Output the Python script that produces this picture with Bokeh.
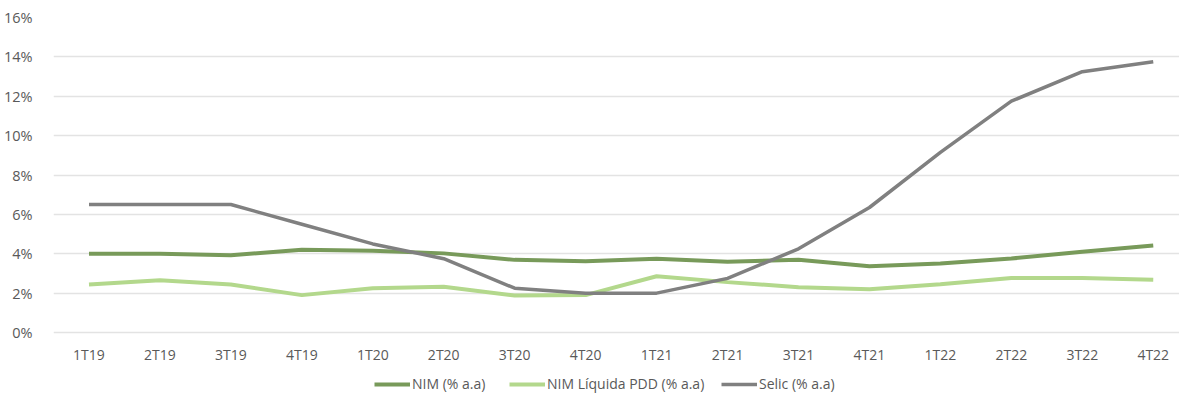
from bokeh.plotting import figure
from bokeh.models import Range1d, FixedTicker, Legend, LegendItem, ColumnDataSource
from bokeh.core.properties import value
from bokeh.embed import file_html
from bokeh.resources import INLINE

quarters = ["1T19", "2T19", "3T19", "4T19", "1T20", "2T20", "3T20", "4T20",
            "1T21", "2T21", "3T21", "4T21", "1T22", "2T22", "3T22", "4T22"]
nim = [4.0, 4.0, 3.93, 4.2, 4.15, 4.02, 3.69, 3.62,
       3.75, 3.6, 3.7, 3.37, 3.5, 3.76, 4.1, 4.42]
nim_pdd = [2.44, 2.65, 2.44, 1.9, 2.25, 2.32, 1.88, 1.9,
           2.86, 2.56, 2.3, 2.2, 2.45, 2.77, 2.77, 2.68]
selic = [6.5, 6.5, 6.5, 5.5, 4.5, 3.75, 2.25, 2.0,
         2.0, 2.75, 4.25, 6.35, 9.15, 11.75, 13.25, 13.75]
y_ticks = [0, 2, 4, 6, 8, 10, 12, 14, 16]
series_names = ["NIM (% a.a)", "NIM Líquida PDD (% a.a)", "Selic (% a.a)"]

x = list(range(len(quarters)))
FONT = "Open Sans"
TXT = "#595959"

# The plotting frame runs down to the bottom edge so that the category
# labels and the legend can live inside it; the value axis stops at 0%.
p = figure(width=1179, height=397, output_backend="svg", toolbar_location=None,
           x_range=Range1d(-0.5, 15.37), y_range=Range1d(-3.30, 16),
           min_border_left=51, min_border_right=0, min_border_top=17,
           min_border_bottom=0)
p.outline_line_color = None
p.background_fill_color = "white"
p.border_fill_color = "white"

p.xaxis.visible = False
p.xgrid.grid_line_color = None

p.yaxis.ticker = FixedTicker(ticks=y_ticks)
p.yaxis.major_label_overrides = {t: f"{t}%" for t in y_ticks}
p.yaxis.axis_line_color = None
p.yaxis.major_tick_line_color = None
p.yaxis.minor_tick_line_color = None
p.yaxis.major_label_text_font = FONT
p.yaxis.major_label_text_font_size = "14.5px"
p.yaxis.major_label_text_color = TXT
p.yaxis.major_label_standoff = 15

p.ygrid.ticker = FixedTicker(ticks=y_ticks)
p.ygrid.grid_line_color = "#E3E3E3"
p.ygrid.grid_line_width = 1.5

# category labels under the 0% line
labels = ColumnDataSource(dict(x=x, y=[0] * len(x), text=quarters))
p.text(x="x", y="y", text="text", source=labels, y_offset=22,
       text_align="center", text_baseline="middle",
       text_font=value(FONT), text_font_size="14px", text_color=TXT)

r1 = p.line(x, nim, line_color="#789A5A", line_width=4)
r2 = p.line(x, nim_pdd, line_color="#B3D88C", line_width=4)
r3 = p.line(x, selic, line_color="#808080", line_width=3.5)

# one legend entry per series, laid out in a row under the category labels
for name, rend, left in zip(series_names, [r1, r2, r3], [321, 456, 668]):
    p.add_layout(Legend(items=[LegendItem(label=name, renderers=[rend])],
                        location=(left, 4),
                        label_text_font=FONT, label_text_font_size="14px",
                        label_text_color=TXT, glyph_width=36, glyph_height=16,
                        label_standoff=2, padding=0, margin=0,
                        border_line_color=None, background_fill_alpha=0),
                 "center")

open("out.html", "w").write(file_html(p, INLINE))
